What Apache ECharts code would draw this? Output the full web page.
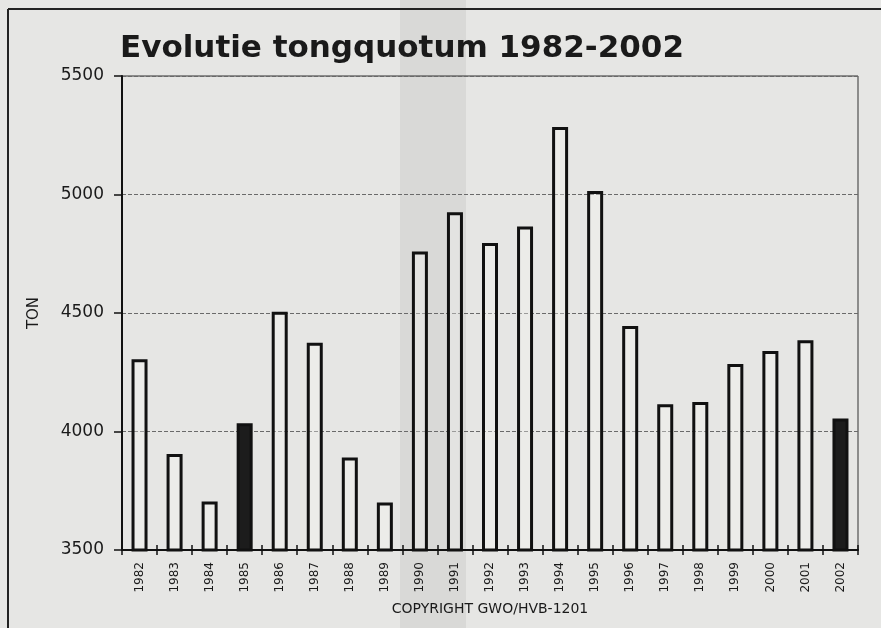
<!DOCTYPE html>
<html>
<head>
<meta charset="utf-8">
<script src="https://cdn.jsdelivr.net/npm/echarts@6/dist/echarts.min.js"></script>
<style>
html, body { margin: 0; padding: 0; background: #e6e6e4; }
#quota { width: 881px; height: 628px; }
</style>
</head>
<body>
<div id="quota"></div>
<script>
var years = ['1982','1983','1984','1985','1986','1987','1988','1989','1990','1991','1992',
             '1993','1994','1995','1996','1997','1998','1999','2000','2001','2002'];
var tons = [4305, 3905, 3705, 4035, 4505, 4375, 3890, 3700, 4760, 4925, 4795,
            4865, 5285, 5015, 4445, 4115, 4125, 4285, 4340, 4385, 4055];
var darkYears = ['1985', '2002'];
var yTicks = [3500, 4000, 4500, 5000, 5500];

var quotaChart = echarts.init(document.getElementById('quota'));

var barData = [];
for (var i = 0; i < years.length; i++) {
    if (darkYears.indexOf(years[i]) >= 0) {
        barData.push({ value: tons[i], itemStyle: { color: '#1c1c1c' } });
    } else {
        barData.push(tons[i]);
    }
}

option = {
    backgroundColor: '#e6e6e4',
    animation: false,
    title: {
        text: 'Evolutie tongquotum 1982-2002',
        left: 120,
        top: 33,
        padding: 0,
        textStyle: {
            fontFamily: 'DejaVu Sans',
            fontWeight: 'bold',
            fontSize: 31,
            color: '#1a1a1a'
        }
    },
    graphic: [
        // scan: darker paper band and the newspaper frame
        { type: 'rect', z: -10, shape: { x: 400, y: 0, width: 66, height: 628 },
          style: { fill: '#d9d9d7' } },
        { type: 'line', shape: { x1: 8, y1: 9, x2: 881, y2: 9 },
          style: { stroke: '#222', lineWidth: 2 } },
        { type: 'line', shape: { x1: 8, y1: 9, x2: 8, y2: 628 },
          style: { stroke: '#222', lineWidth: 2 } }
    ],
    grid: {
        show: true,
        left: 122,
        right: 23,
        top: 76,
        bottom: 78,
        borderColor: '#333',
        borderWidth: 1,
        backgroundColor: 'transparent'
    },
    xAxis: [
        {
            type: 'category',
            data: years,
            name: 'COPYRIGHT GWO/HVB-1201',
            nameLocation: 'middle',
            nameGap: 52,
            nameTextStyle: {
                fontFamily: 'DejaVu Sans',
                fontSize: 14,
                color: '#1a1a1a'
            },
            axisLine: { lineStyle: { color: '#111', width: 2 } },
            axisTick: { show: true, length: 5, lineStyle: { color: '#111', width: 1.5 } },
            axisLabel: {
                rotate: 90,
                margin: 12,
                fontFamily: 'DejaVu Sans',
                fontSize: 12,
                color: '#1a1a1a'
            }
        },
        {
            // second copy of the axis only for the ticks above the line
            type: 'category',
            data: years,
            position: 'bottom',
            axisLine: { show: false },
            axisTick: { show: true, inside: true, length: 5, lineStyle: { color: '#111', width: 1.5 } },
            axisLabel: { show: false }
        }
    ],
    yAxis: {
        type: 'value',
        min: yTicks[0],
        max: yTicks[yTicks.length - 1],
        interval: 500,
        name: 'TON',
        nameLocation: 'middle',
        nameGap: 80,
        nameTextStyle: {
            fontFamily: 'DejaVu Sans',
            fontSize: 15,
            color: '#1a1a1a'
        },
        axisLine: { show: true, lineStyle: { color: '#111', width: 2 } },
        axisTick: { show: true, length: 8, lineStyle: { color: '#111', width: 1.5 } },
        axisLabel: {
            margin: 18,
            fontFamily: 'DejaVu Sans',
            fontSize: 17,
            color: '#1a1a1a',
            formatter: function (v) { return String(v); }
        },
        splitLine: {
            show: true,
            lineStyle: { color: '#6a6a6a', width: 1, type: 'dashed' }
        }
    },
    series: [
        {
            type: 'bar',
            data: barData,
            barWidth: 16,
            itemStyle: {
                color: 'rgba(245,245,243,0.35)',
                borderColor: '#111',
                borderWidth: 3
            }
        }
    ]
};

quotaChart.setOption(option);
</script>
</body>
</html>
